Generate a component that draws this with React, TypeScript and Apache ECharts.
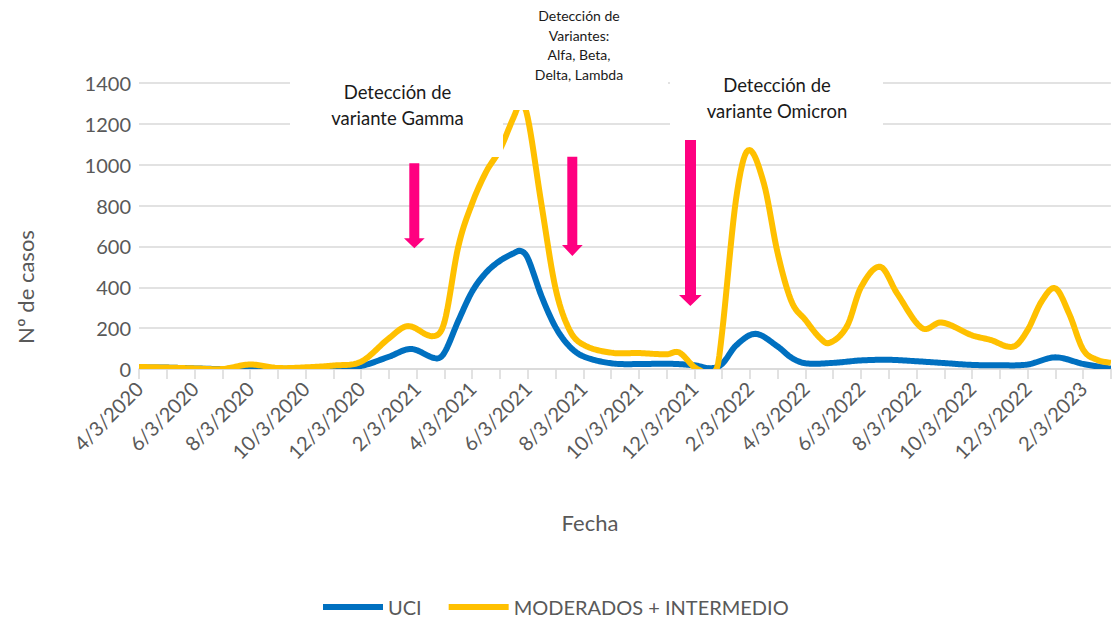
import React, { useEffect, useRef } from "react";
import * as echarts from "echarts";

// Tick labels (every second month, starting 4/3/2020)
const etiquetasFecha = [
  "4/3/2020", "6/3/2020", "8/3/2020", "10/3/2020", "12/3/2020",
  "2/3/2021", "4/3/2021", "6/3/2021", "8/3/2021", "10/3/2021", "12/3/2021",
  "2/3/2022", "4/3/2022", "6/3/2022", "8/3/2022", "10/3/2022", "12/3/2022",
  "2/3/2023",
];

// Position in months since 4/3/2020
const mesesUCI = [0, 1, 2, 3, 4, 5, 6, 7, 8, 9, 9.8, 10.7, 11, 11.5, 12, 12.5, 13, 13.5, 13.75, 14, 14.5, 15, 15.5, 16, 17, 18, 19, 20, 20.6, 21, 21.5, 22.2, 23, 23.5, 24, 25, 26, 27, 28, 29, 30, 31, 32, 33, 34, 35];
const valoresUCI = [8, 7, 3, 0, 5, 1, 2, 5, 15, 60, 98, 52, 80, 236, 380, 472, 530, 567, 578, 543, 355, 205, 111, 62, 28, 24, 26, 18, 4, 25, 115, 172, 110, 55, 28, 30, 42, 45, 38, 29, 20, 18, 22, 57, 25, 2];

const mesesModerados = [0, 1, 2, 3, 4, 5, 6, 7, 8, 9, 9.68, 10.6, 11, 11.5, 12, 12.5, 13, 13.5, 13.75, 14, 14.5, 15, 15.5, 16, 17, 18, 19, 19.45, 20.1, 20.8, 21, 21.5, 21.93, 22.5, 23, 23.5, 24, 24.5, 24.85, 25.5, 26, 26.7, 27.3, 28.2, 28.9, 30, 30.65, 31.5, 32, 32.5, 33, 33.5, 34, 34.5, 35];
const valoresModerados = [10, 7, 3, 0, 22, 5, 8, 17, 36, 150, 210, 161, 230, 600, 812, 965, 1075, 1235, 1300, 1230, 800, 395, 192, 119, 80, 78, 72, 81, 0, 0, 180, 830, 1070, 910, 567, 330, 240, 155, 127, 210, 400, 500, 370, 200, 228, 165, 143, 110, 190, 330, 395, 270, 95, 45, 30];

const nombresSeries = ["UCI", "MODERADOS + INTERMEDIO"];
const coloresSeries = ["#0070C0", "#FFC000"];

const FONT = "Lato, 'Open Sans', sans-serif";
const ROSA = "#FF0080";

function flecha(x0: number, x1: number, top: number, hx0: number, hx1: number, headTop: number, tip: number) {
  return {
    type: "polygon",
    z: 110,
    shape: {
      points: [
        [x0, top], [x1, top], [x1, headTop], [hx1, headTop],
        [(hx0 + hx1) / 2, tip], [hx0, headTop], [x0, headTop],
      ],
    },
    style: { fill: ROSA },
  };
}

// Smooth curve (cubic Hermite with finite-difference tangents) through the
// data points, mapped to pixels with the chart's own axes (api.coord).
function curva(api: any, xs: number[], ys: number[]) {
  const p = xs.map((x, i) => api.coord([x, ys[i]]) as number[]);
  const n = p.length;
  const m = p.map((_, i) => {
    if (i === 0) return (p[1][1] - p[0][1]) / (p[1][0] - p[0][0]);
    if (i === n - 1) return (p[n - 1][1] - p[n - 2][1]) / (p[n - 1][0] - p[n - 2][0]);
    return (p[i + 1][1] - p[i - 1][1]) / (p[i + 1][0] - p[i - 1][0]);
  });
  const out: number[][] = [];
  for (let i = 0; i < n - 1; i++) {
    const h = p[i + 1][0] - p[i][0];
    const steps = Math.max(4, Math.ceil(h / 1.5));
    for (let s = 0; s < steps; s++) {
      const t = s / steps;
      const t2 = t * t, t3 = t2 * t;
      const h00 = 2 * t3 - 3 * t2 + 1;
      const h10 = t3 - 2 * t2 + t;
      const h01 = -2 * t3 + 3 * t2;
      const h11 = t3 - t2;
      out.push([p[i][0] + t * h, h00 * p[i][1] + h10 * h * m[i] + h01 * p[i + 1][1] + h11 * h * m[i + 1]]);
    }
  }
  out.push(p[n - 1]);
  return out;
}

function serieSuave(idx: number, xs: number[], ys: number[]) {
  return {
    name: nombresSeries[idx],
    type: "custom",
    coordinateSystem: "cartesian2d",
    clip: true,
    z: 2 + idx,
    itemStyle: { color: coloresSeries[idx] },
    encode: { x: 0, y: 1 },
    data: xs.map((x, i) => [x, ys[i]]),
    renderItem: (params: any, api: any) => {
      if (params.dataIndex !== 0) return null;
      return {
        type: "polyline",
        shape: { points: curva(api, xs, ys) },
        style: { stroke: coloresSeries[idx], lineWidth: 6, fill: null, lineJoin: "round", lineCap: "butt" },
      };
    },
  };
}

export default function App() {
  const ref = useRef<HTMLDivElement>(null);
  useEffect(() => {
    document.body.style.margin = "0";
    const chart = echarts.init(ref.current!, null, { renderer: "svg" });
    chart.setOption({
      animation: false,
      backgroundColor: "#ffffff",
      textStyle: { fontFamily: FONT },
      grid: { left: 139, right: -6, top: 83, bottom: 252, containLabel: false },
      xAxis: {
        type: "value",
        min: 0,
        max: 35,
        interval: 1,
        axisLine: { show: true, lineStyle: { color: "#D9D9D9", width: 1.5 } },
        axisTick: { show: true, length: 10, lineStyle: { color: "#D9D9D9", width: 1.5 } },
        splitLine: { show: false },
        axisLabel: {
          rotate: 45,
          margin: 16,
          fontSize: 20,
          color: "#595959",
          fontFamily: FONT,
          showMaxLabel: true,
          showMinLabel: true,
          formatter: (v: number) => (Number.isInteger(v) && v % 2 === 0 ? etiquetasFecha[v / 2] ?? "" : ""),
        },
      },
      yAxis: {
        type: "value",
        min: 0,
        max: 1400,
        interval: 200,
        axisLine: { show: false },
        axisTick: { show: false },
        splitLine: { show: true, lineStyle: { color: "#D9D9D9", width: 1.5 } },
        axisLabel: { fontSize: 20, color: "#595959", margin: 8, fontFamily: FONT, formatter: (v: number) => String(v) },
      },
      legend: {
        data: nombresSeries,
        left: 318,
        top: 592,
        icon: "rect",
        itemWidth: 60,
        itemHeight: 6,
        itemGap: 27,
        textStyle: { fontSize: 20, color: "#595959", fontFamily: FONT },
      },
      series: [
        serieSuave(0, mesesUCI, valoresUCI),
        serieSuave(1, mesesModerados, valoresModerados),
      ],
      graphic: [
        { type: "rect", z: 100, shape: { x: 290, y: 60, width: 213, height: 97 }, style: { fill: "#ffffff" } },
        { type: "rect", z: 100, shape: { x: 503, y: 0, width: 165, height: 110 }, style: { fill: "#ffffff" } },
        { type: "rect", z: 100, shape: { x: 670, y: 55, width: 213, height: 80 }, style: { fill: "#ffffff" } },
        flecha(409.3, 419.3, 163.3, 404, 424.7, 238.3, 248.3),
        flecha(567.3, 577.3, 156.7, 562, 582.7, 245, 256),
        flecha(685, 696, 140, 679, 701.7, 295, 306),
        {
          type: "text", z: 120, x: 397.5, y: 105,
          style: { text: "Detección de\nvariante Gamma", textAlign: "center", textVerticalAlign: "middle", font: `18.5px ${FONT}`, lineHeight: 26, fill: "#1a1a1a" },
        },
        {
          type: "text", z: 120, x: 579, y: 44.75,
          style: { text: "Detección de\nVariantes:\nAlfa, Beta,\nDelta, Lambda", textAlign: "center", textVerticalAlign: "middle", font: `14px ${FONT}`, lineHeight: 19.5, fill: "#1a1a1a" },
        },
        {
          type: "text", z: 120, x: 777, y: 98,
          style: { text: "Detección de\nvariante Omicron", textAlign: "center", textVerticalAlign: "middle", font: `18.5px ${FONT}`, lineHeight: 26, fill: "#1a1a1a" },
        },
        {
          type: "text", z: 120, x: 590, y: 522,
          style: { text: "Fecha", textAlign: "center", textVerticalAlign: "middle", font: `22px ${FONT}`, fill: "#595959" },
        },
        {
          type: "text", z: 120, x: 25, y: 287, rotation: Math.PI / 2,
          style: { text: "Nº de casos", textAlign: "center", textVerticalAlign: "middle", font: `22px ${FONT}`, fill: "#595959" },
        },
      ],
    });
    return () => chart.dispose();
  }, []);
  return <div ref={ref} style={{ width: 1113, height: 621 }} />;
}
